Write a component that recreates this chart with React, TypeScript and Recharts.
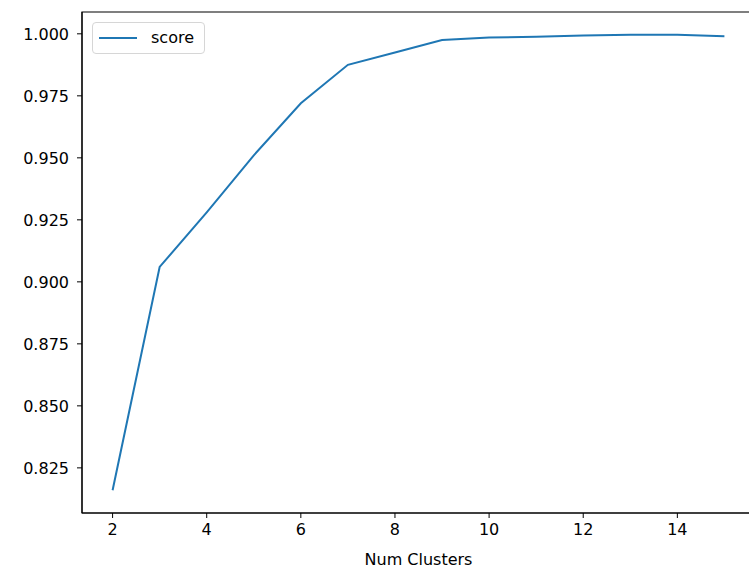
import { LineChart, Line, XAxis, YAxis, ReferenceArea } from "recharts";

const clusters = [2, 3, 4, 5, 6, 7, 8, 9, 10, 11, 12, 13, 14, 15];
const scores = [
  0.816, 0.906, 0.928, 0.951, 0.972, 0.9875, 0.9925, 0.9975, 0.9985, 0.9988,
  0.9993, 0.9996, 0.9996, 0.999,
];
const xTicks = [2, 4, 6, 8, 10, 12, 14];
const yTicks = [0.825, 0.85, 0.875, 0.9, 0.925, 0.95, 0.975, 1.0];

const data = clusters.map((c, i) => ({ k: c, score: scores[i] }));

// matplotlib style 5% margins
const X_DOMAIN: [number, number] = [1.35, 15.65];
const Y_DOMAIN: [number, number] = [0.8068, 1.0088];

const FONT = "'DejaVu Sans', sans-serif";
const BLUE = "#1f77b4";

// legend drawn on top of the plot, like matplotlib's "upper left"
function ScoreLegend() {
  return (
    <div
      style={{
        position: "absolute",
        left: 92,
        top: 22,
        display: "flex",
        alignItems: "center",
        border: "1px solid #d6d6d6",
        borderRadius: 4,
        background: "rgba(255,255,255,0.8)",
        padding: "5px 10px 6px 6px",
        fontFamily: FONT,
        fontSize: 16,
        color: "#000",
      }}
    >
      <span
        style={{
          display: "inline-block",
          width: 38,
          height: 2,
          background: BLUE,
          marginRight: 14,
        }}
      />
      score
    </div>
  );
}

export default function App() {
  return (
    <div
      style={{
        position: "fixed",
        left: 0,
        top: 0,
        width: 749,
        height: 569,
        overflow: "hidden",
        background: "#fff",
      }}
    >
      <LineChart
        width={760}
        height={569}
        data={data}
        margin={{ top: 12, right: 5, bottom: 0, left: 0 }}
      >
        <XAxis
          dataKey="k"
          type="number"
          domain={X_DOMAIN}
          ticks={xTicks}
          allowDataOverflow
          height={56}
          tickSize={5}
          tickMargin={6}
          stroke="#000"
          tick={{ fill: "#000", fontSize: 16, fontFamily: FONT }}
          label={{
            value: "Num Clusters",
            position: "insideBottom",
            offset: 4,
            fill: "#000",
            fontSize: 16,
            fontFamily: FONT,
          }}
        />
        <YAxis
          type="number"
          domain={Y_DOMAIN}
          ticks={yTicks}
          allowDataOverflow
          width={82}
          tickSize={5}
          tickMargin={8}
          stroke="#000"
          tickFormatter={(v: number) => v.toFixed(3)}
          tick={{ fill: "#000", fontSize: 16, fontFamily: FONT }}
        />
        <ReferenceArea
          x1={X_DOMAIN[0]}
          x2={X_DOMAIN[1]}
          y1={Y_DOMAIN[0]}
          y2={Y_DOMAIN[1]}
          fill="none"
          stroke="#000"
          strokeWidth={1.2}
          ifOverflow="visible"
        />
        <Line
          type="linear"
          dataKey="score"
          stroke={BLUE}
          strokeWidth={2}
          dot={false}
          isAnimationActive={false}
        />
      </LineChart>
      <ScoreLegend />
    </div>
  );
}
